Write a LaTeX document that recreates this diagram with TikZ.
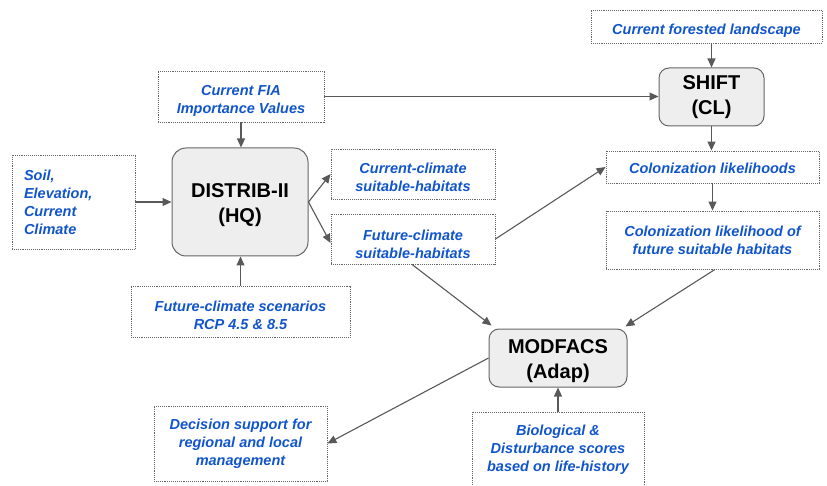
\documentclass[tikz,border=0pt]{standalone}
\usepackage{fontspec}
\setmainfont{Liberation Sans}
\usetikzlibrary{arrows.meta}
\definecolor{txtblue}{HTML}{1155CC}
\definecolor{linegray}{HTML}{595959}
\definecolor{boxgray}{HTML}{666666}
\definecolor{fillgray}{HTML}{EEEEEE}
\newcommand{\dnb}[1]{\rule{0pt}{\dimexpr 10.6pt+2\dimexpr #1pt\relax\relax}}
\newcommand{\dnm}[1]{\rule{0pt}{\dimexpr 14.6pt+2\dimexpr #1pt\relax\relax}}
\tikzset{
  infobox/.style={draw=boxgray, densely dotted, line width=0.9pt, text=txtblue,
    font=\fontsize{14.5}{18}\selectfont\bfseries\itshape, align=center,
    inner sep=0pt, anchor=center},
  mainbox/.style={draw=boxgray, fill=fillgray, line width=1pt, rounded corners=10pt,
    font=\fontsize{20}{25}\selectfont\bfseries, align=center, inner sep=0pt, anchor=center},
  conn/.style={draw=linegray, line width=1.1pt, -{Triangle[length=9pt,width=8pt]}}
}
\begin{document}
\begin{tikzpicture}[x=1pt,y=-1pt]
\useasboundingbox (0,0) rectangle (827,486);
\clip (0,0) rectangle (827,486);
\node[infobox, minimum width=123, minimum height=94, text width=99, inner xsep=12pt, align=left] (soil) at (73.5,202) {Soil,\\Elevation,\\Current\\Climate};
\node[infobox, minimum width=166, minimum height=51] (fia) at (241,96.5) {\dnb{4}Current FIA\\Importance Values};
\node[mainbox, minimum width=136, minimum height=108, rounded corners=14pt] (distrib) at (240,202) {\dnm{3}DISTRIB-II\\(HQ)};
\node[infobox, minimum width=164, minimum height=50] (cur) at (413,174) {\dnb{3.5}Current-climate\\suitable-habitats};
\node[infobox, minimum width=164, minimum height=50] (fut) at (413,239) {\dnb{5}Future-climate\\suitable-habitats};
\node[infobox, minimum width=231, minimum height=33] (forest) at (706.5,26.5) {\dnb{4}Current forested landscape};
\node[mainbox, minimum width=105, minimum height=58] (shift) at (711.5,97) {SHIFT\\(CL)};
\node[infobox, minimum width=213, minimum height=32] (colon) at (712.5,167) {\dnb{1}Colonization likelihoods};
\node[infobox, minimum width=213, minimum height=58] (colfut) at (712.5,240) {Colonization likelihood of\\future suitable habitats};
\node[infobox, minimum width=219, minimum height=51] (scen) at (240.5,311.5) {\dnb{3.5}Future-climate scenarios\\RCP 4.5 \& 8.5};
\node[mainbox, minimum width=138, minimum height=58] (modfacs) at (558,358) {\dnm{2.5}MODFACS\\(Adap)};
\node[infobox, minimum width=173, minimum height=75] (decision) at (240.5,443.5) {Decision support for\\regional and local\\management};
\node[infobox, minimum width=172, minimum height=76] (bio) at (558,450) {Biological \&\\Disturbance scores\\based on life-history};

\draw[conn] (soil.east) -- (distrib.west);
\draw[conn] (fia.south) -- (fia.south |- distrib.north);
\draw[conn] (scen.north) -- (scen.north |- distrib.south);
\draw[conn] (distrib.east) -- (cur.west);
\draw[conn] (distrib.east) -- ([yshift=-4pt]fut.west);
\draw[conn] (fia.east) -- (fia.east -| shift.west);
\draw[conn] (shift.north |- forest.south) -- (shift.north);
\draw[conn] (shift.south) -- (shift.south |- colon.north);
\draw[conn] (colon.south) -- (colfut.north);
\draw[conn] (fut.east) -- (colon.west);
\draw[conn] ([xshift=-1pt]fut.south) -- ([xshift=3pt,yshift=3pt]modfacs.north west);
\draw[conn] ([xshift=2.5pt]colfut.south) -- ([xshift=-2pt,yshift=2pt]modfacs.north east);
\draw[conn] (modfacs.west) -- (decision.east);
\draw[conn] (bio.north) -- (modfacs.south);
\end{tikzpicture}
\end{document}
